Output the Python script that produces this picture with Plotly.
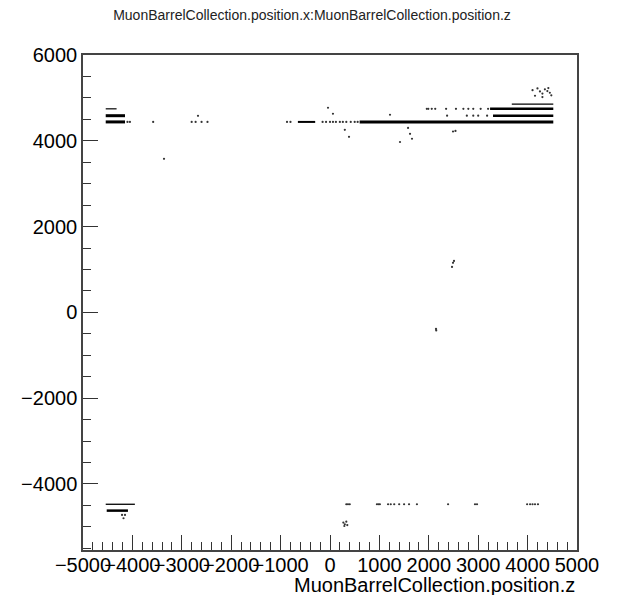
import plotly.graph_objects as go

# ---- dense hit bands (position.z start, position.z end, position.x) ----
band_z_start = [-4540, -4540, -4540, 600, 3240, 3300, 3680, -4540, -4520, -650]
band_z_end   = [-4150, -4150, -4320, 4520, 4520, 4520, 4520, -3950, -4090, -300]
band_x       = [4585, 4440, 4745, 4440, 4745, 4585, 4856, -4474, -4622, 4440]
band_width   = [3, 3, 1.2, 3, 2.5, 2.5, 1.2, 1.3, 2.5, 2]

# ---- isolated hits (position.z, position.x) ----
hit_z = [
    -4100, -4050, -3580, -2800, -2720, -2600, -2480, -2672, -3360,
    -870, -800, -150, -80, 0, 60, 120, 200, 260, 330, 420, 500, 560,
    -40, 60, 300, 385, 1215, 1580, 1620, 1660, 1417, 1990, 2060, 2130,
    2490, 2540,
    1960, 2350, 2550, 2700, 2800, 2900, 3050, 3200,
    2370, 2770, 2900, 3000, 3180,
    4100, 4200, 4250, 4300, 4350, 4400, 4450, 4480, 4150, 4300, 4420,
    2490, 2470, 2510, 2146, 2150,
    -4210, -4150, -4180,
    330, 364, 400, 950, 980, 1010, 1175, 1230, 1300, 1400, 1500, 1600, 1760,
    2390, 2935, 2976, 3990, 4050, 4100, 4150, 4210,
    270, 300, 330, 350, 290,
]
hit_x = [
    4440, 4440, 4440, 4440, 4440, 4440, 4440, 4583, 3580,
    4440, 4440, 4440, 4440, 4440, 4440, 4440, 4440, 4440, 4440, 4440, 4440, 4440,
    4770, 4630, 4256, 4093, 4607, 4300, 4163, 4047, 3972, 4746, 4746, 4746,
    4217, 4230,
    4745, 4745, 4745, 4745, 4745, 4745, 4745, 4745,
    4585, 4585, 4585, 4585, 4585,
    5180, 5220, 5150, 5100, 5200, 5160, 5120, 5060, 5050, 5020, 5230,
    1154, 1060, 1200, -385, -420,
    -4723, -4723, -4800,
    -4474, -4474, -4474, -4474, -4474, -4474, -4474, -4474, -4474, -4474, -4474, -4474, -4474,
    -4474, -4474, -4474, -4474, -4474, -4474, -4474, -4474,
    -4900, -4940, -4880, -4960, -4980,
]

title_text = "MuonBarrelCollection.position.x:MuonBarrelCollection.position.z"
x_title = "MuonBarrelCollection.position.z"
x_range = [-5000, 5000]
y_range = [-5540, 6000]

fig = go.Figure()

for zs, ze, xv, w in zip(band_z_start, band_z_end, band_x, band_width):
    fig.add_trace(go.Scatter(
        x=[zs, ze], y=[xv, xv], mode="lines",
        line=dict(color="black", width=w), showlegend=False, hoverinfo="skip"))

fig.add_trace(go.Scatter(
    x=hit_z, y=hit_x, mode="markers",
    marker=dict(color="#333", size=2.2, line=dict(width=0)),
    showlegend=False))

axis_font = dict(family="Liberation Sans, Arial, sans-serif", size=20, color="black")

fig.update_layout(
    width=624, height=595,
    margin=dict(l=83, r=47, t=55, b=45),
    paper_bgcolor="white", plot_bgcolor="white",
    title=dict(text=title_text, x=0.5, xref="container", xanchor="center",
               y=1 - 15 / 595, yref="container", yanchor="middle",
               font=dict(family="Liberation Sans, Arial, sans-serif", size=14, color="#222")),
    xaxis=dict(range=x_range, dtick=1000, tick0=0, ticks="inside", ticklen=15,
               tickwidth=1.2, tickcolor="#333", showgrid=False, zeroline=False,
               showline=True, linecolor="#444", linewidth=1.5, mirror=True,
               tickfont=axis_font, tickangle=0, automargin=False,
               ticklabelstandoff=-4,
               minor=dict(ticks="inside", ticklen=8, dtick=200, tickcolor="#333", tickwidth=1)),
    yaxis=dict(range=y_range, dtick=2000, tick0=0, ticks="inside", ticklen=15,
               tickwidth=1.2, tickcolor="#333", showgrid=False, zeroline=False,
               showline=True, linecolor="#444", linewidth=1.5, mirror=True,
               tickfont=axis_font, automargin=False,
               minor=dict(ticks="inside", ticklen=8, dtick=500, tickcolor="#333", tickwidth=1)),
    annotations=[dict(text=x_title, xref="paper", yref="paper", x=1, y=-35 / 495,
                      xanchor="right", yanchor="middle", showarrow=False,
                      font=axis_font)],
)

fig.write_html("out.html")
